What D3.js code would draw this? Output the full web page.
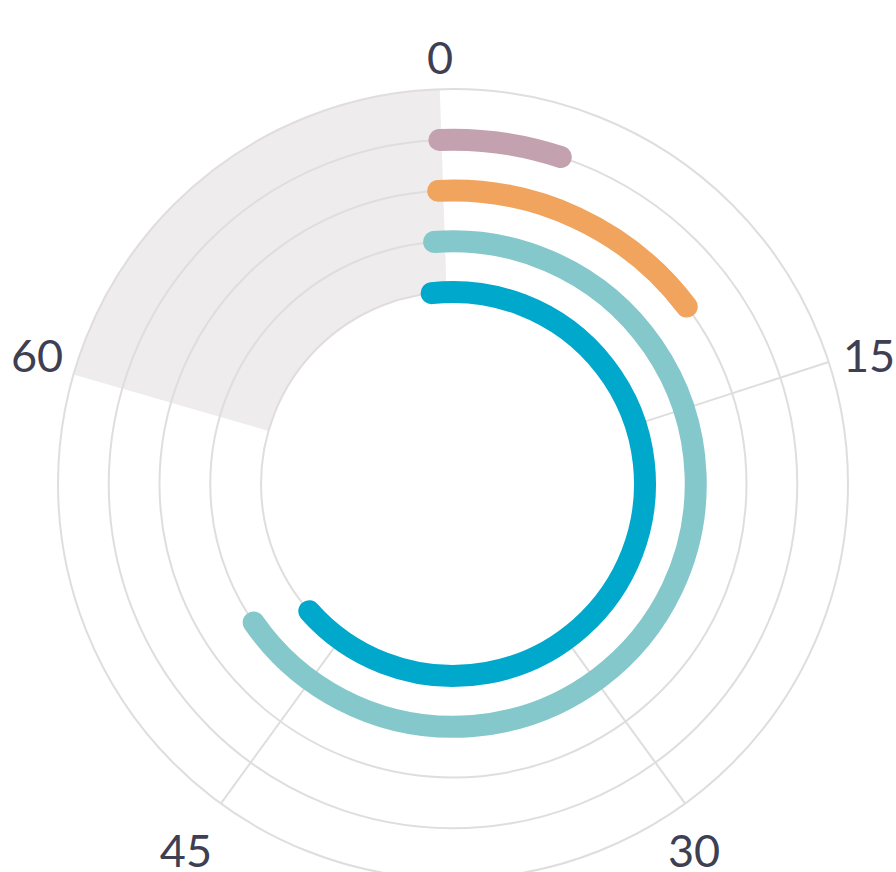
<!DOCTYPE html>
<html><head><meta charset="utf-8">
<script src="https://cdn.jsdelivr.net/npm/d3@7"></script>
<style>html,body{margin:0;padding:0;background:#fff;} svg{display:block;}</style>
</head><body><svg id="chart" width="896" height="872"></svg>
<script>
// ---- data ----
const categories = ["A", "B", "C", "D"];          // inner ring to outer ring
const barStarts  = [-1.33, -0.93, -0.6, -0.47];
const barValues  = [47.6, 49.0, 11.0, 3.8];
const barColors  = ["#00a8cc", "#84c8cb", "#f0a45d", "#c4a1ae"];
const tickValues = [0, 15, 30, 45, 60];
const tickLabels = ["0", "15", "30", "45", "60"];
const angularMax = 75;
const shadedRange = [59.6, 74.6];

// ---- layout ----
const cx = 453, cy = 484;
const svg = d3.select("#chart");
const g = svg.append("g").attr("transform", `translate(${cx},${cy})`);

const angle = d3.scaleLinear().domain([0, angularMax]).range([0, 2 * Math.PI]);
const radius = d3.scaleLinear().domain([0, categories.length]).range([192, 395]);
const rMin = radius(0), rMax = radius(categories.length);

// shaded band
g.append("path")
  .attr("d", d3.arc().innerRadius(rMin).outerRadius(rMax)
    .startAngle(angle(shadedRange[0])).endAngle(angle(shadedRange[1]))())
  .attr("fill", "#eeeced");

// ring gridlines
g.selectAll("circle.ring").data(d3.range(categories.length + 1)).join("circle")
  .attr("class", "ring").attr("r", d => radius(d))
  .attr("fill", "none").attr("stroke", "#e0dddd").attr("stroke-width", 2);

// spoke gridlines
g.selectAll("line.spoke").data(tickValues.filter(v => v > 0 && v < 60)).join("line")
  .attr("class", "spoke")
  .attr("x1", d => rMin * Math.sin(angle(d))).attr("y1", d => -rMin * Math.cos(angle(d)))
  .attr("x2", d => rMax * Math.sin(angle(d))).attr("y2", d => -rMax * Math.cos(angle(d)))
  .attr("stroke", "#e0dddd").attr("stroke-width", 2);

// bars
function arcPath(r, v0, v1) {
  const p = d3.path();
  const a0 = angle(v0) - Math.PI / 2, a1 = angle(v1) - Math.PI / 2;
  p.moveTo(r * Math.cos(a0), r * Math.sin(a0));
  p.arc(0, 0, r, a0, a1);
  return p.toString();
}
g.selectAll("path.bar").data(categories).join("path")
  .attr("class", "bar")
  .attr("d", (c, i) => arcPath(radius(i), barStarts[i], barValues[i]))
  .attr("fill", "none").attr("stroke", (c, i) => barColors[i])
  .attr("stroke-width", 22).attr("stroke-linecap", "round");

// angular tick labels
const L = 410;
g.selectAll("text.tick").data(tickValues).join("text")
  .attr("class", "tick")
  .attr("x", d => L * Math.sin(angle(d)))
  .attr("y", d => -L * Math.cos(angle(d)))
  .attr("dy", d => { const c = Math.cos(angle(d)); return c > 0.9 ? "0em" : c > -0.3 ? "0.33em" : "1.13em"; })
  .attr("text-anchor", d => { const s = Math.sin(angle(d)); return s > 0.7 ? "start" : s > 0.01 ? "middle" : "end"; })
  .attr("font-family", "Lato, 'Open Sans', sans-serif")
  .attr("font-size", 45)
  .attr("fill", "#3e3f52")
  .text((d, i) => tickLabels[i]);
</script>
</body></html>
